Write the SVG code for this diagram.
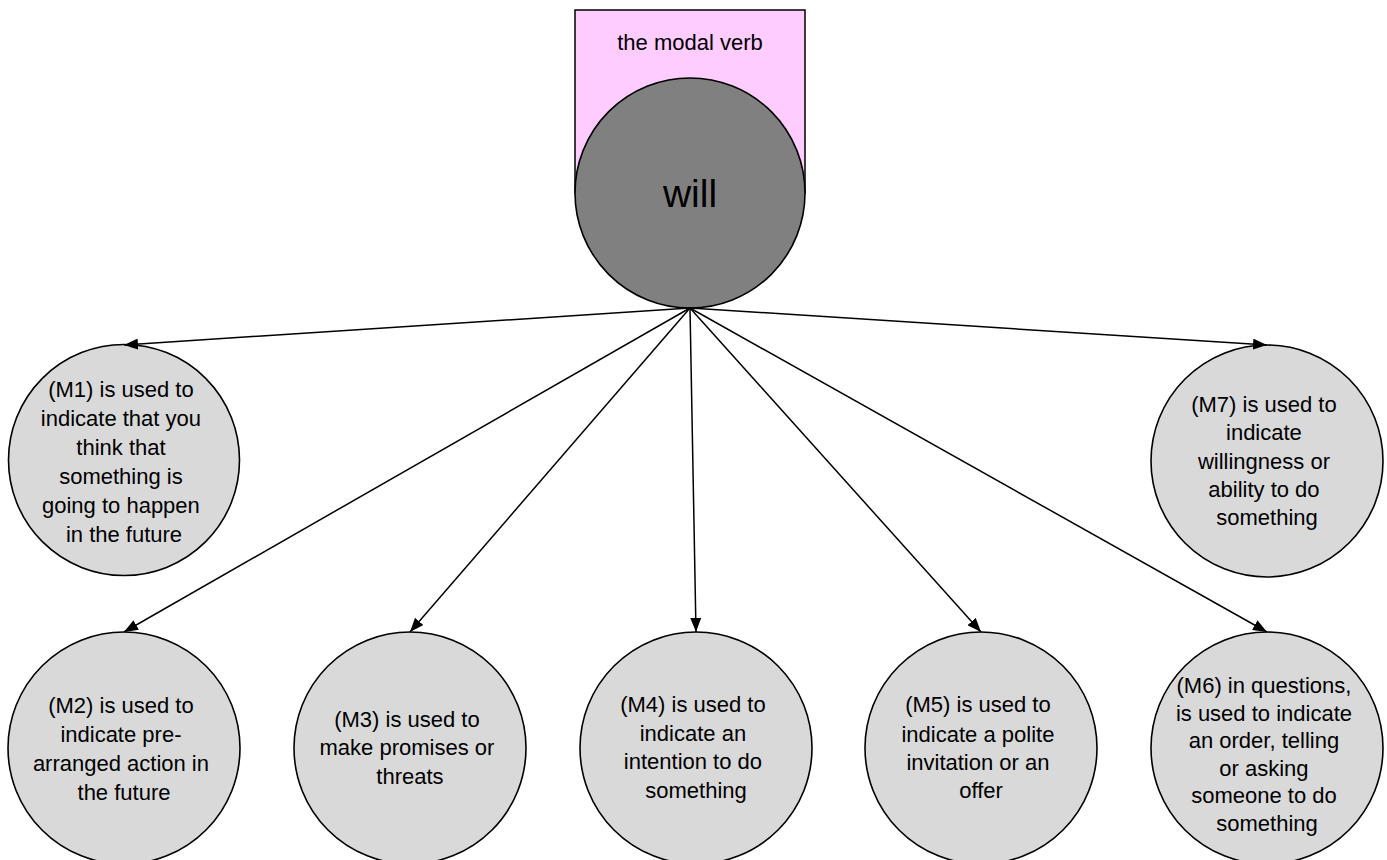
<svg xmlns="http://www.w3.org/2000/svg" width="1387" height="860" viewBox="0 0 1387 860">
  <defs>
    <style>
      .node { fill: #d9d9d9; stroke: #000; stroke-width: 1.6; }
      .hub { fill: #808080; stroke: #000; stroke-width: 1.6; }
      .frame { fill: #ffccff; stroke: #000; stroke-width: 1.5; }
      .lbl { font-family: "Liberation Sans", Arial, sans-serif; font-size: 22px; fill: #000; text-anchor: middle; }
      .big { font-family: "Liberation Sans", Arial, sans-serif; font-size: 39px; fill: #000; text-anchor: middle; }
      .edge { fill: none; stroke: #000; stroke-width: 1.5; marker-end: url(#arrow); }
    </style>
    <marker id="arrow" markerUnits="userSpaceOnUse" markerWidth="15" markerHeight="11" refX="14" refY="5.5" orient="auto">
      <path d="M0,0 L14,5.5 L0,11 z" fill="#000"/>
    </marker>
  </defs>

  <rect width="1387" height="860" fill="#fff"/>

  <!-- central node: frame with title and hub circle -->
  <g id="hub">
    <rect class="frame" x="575" y="10" width="230" height="183"/>
    <text class="lbl" x="690" y="50">the modal verb</text>
    <circle class="hub" cx="690" cy="193" r="115"/>
    <text class="big" x="690" y="207">will</text>
  </g>

  <g id="m1">
    <circle class="node" cx="124" cy="460" r="115.5"/>
    <text class="lbl">
      <tspan x="124" y="397">(M1) is used to</tspan>
      <tspan x="124" y="426">indicate that you</tspan>
      <tspan x="124" y="455">think that</tspan>
      <tspan x="124" y="484">something is</tspan>
      <tspan x="124" y="513">going to happen</tspan>
      <tspan x="124" y="542">in the future</tspan>
    </text>
  </g>

  <g id="m7">
    <circle class="node" cx="1267" cy="461" r="116"/>
    <text class="lbl">
      <tspan x="1267" y="412">(M7) is used to</tspan>
      <tspan x="1267" y="440">indicate</tspan>
      <tspan x="1267" y="469">willingness or</tspan>
      <tspan x="1267" y="497">ability to do</tspan>
      <tspan x="1267" y="525">something</tspan>
    </text>
  </g>

  <g id="m2">
    <circle class="node" cx="124" cy="748" r="116"/>
    <text class="lbl">
      <tspan x="124" y="713">(M2) is used to</tspan>
      <tspan x="124" y="742">indicate pre-</tspan>
      <tspan x="124" y="771">arranged action in</tspan>
      <tspan x="124" y="800">the future</tspan>
    </text>
  </g>

  <g id="m3">
    <circle class="node" cx="410" cy="748" r="116"/>
    <text class="lbl">
      <tspan x="410" y="727">(M3) is used to</tspan>
      <tspan x="410" y="755">make promises or</tspan>
      <tspan x="410" y="784">threats</tspan>
    </text>
  </g>

  <g id="m4">
    <circle class="node" cx="696" cy="748" r="116"/>
    <text class="lbl">
      <tspan x="696" y="712">(M4) is used to</tspan>
      <tspan x="696" y="741">indicate an</tspan>
      <tspan x="696" y="769">intention to do</tspan>
      <tspan x="696" y="798">something</tspan>
    </text>
  </g>

  <g id="m5">
    <circle class="node" cx="981" cy="748" r="116"/>
    <text class="lbl">
      <tspan x="981" y="712">(M5) is used to</tspan>
      <tspan x="981" y="742">indicate a polite</tspan>
      <tspan x="981" y="770">invitation or an</tspan>
      <tspan x="981" y="798">offer</tspan>
    </text>
  </g>

  <g id="m6">
    <circle class="node" cx="1267" cy="748" r="116"/>
    <text class="lbl">
      <tspan x="1267" y="693">(M6) in questions,</tspan>
      <tspan x="1267" y="721">is used to indicate</tspan>
      <tspan x="1267" y="748">an order, telling</tspan>
      <tspan x="1267" y="776">or asking</tspan>
      <tspan x="1267" y="803">someone to do</tspan>
      <tspan x="1267" y="831">something</tspan>
    </text>
  </g>

  <!-- connectors fan out from the bottom of the hub -->
  <g id="connectors">
    <line class="edge" x1="690" y1="308" x2="124" y2="345"/>
    <line class="edge" x1="690" y1="308" x2="1267" y2="345"/>
    <line class="edge" x1="690" y1="308" x2="124" y2="632"/>
    <line class="edge" x1="690" y1="308" x2="410" y2="632"/>
    <line class="edge" x1="690" y1="308" x2="696" y2="632"/>
    <line class="edge" x1="690" y1="308" x2="981" y2="632"/>
    <line class="edge" x1="690" y1="308" x2="1267" y2="632"/>
  </g>
</svg>
